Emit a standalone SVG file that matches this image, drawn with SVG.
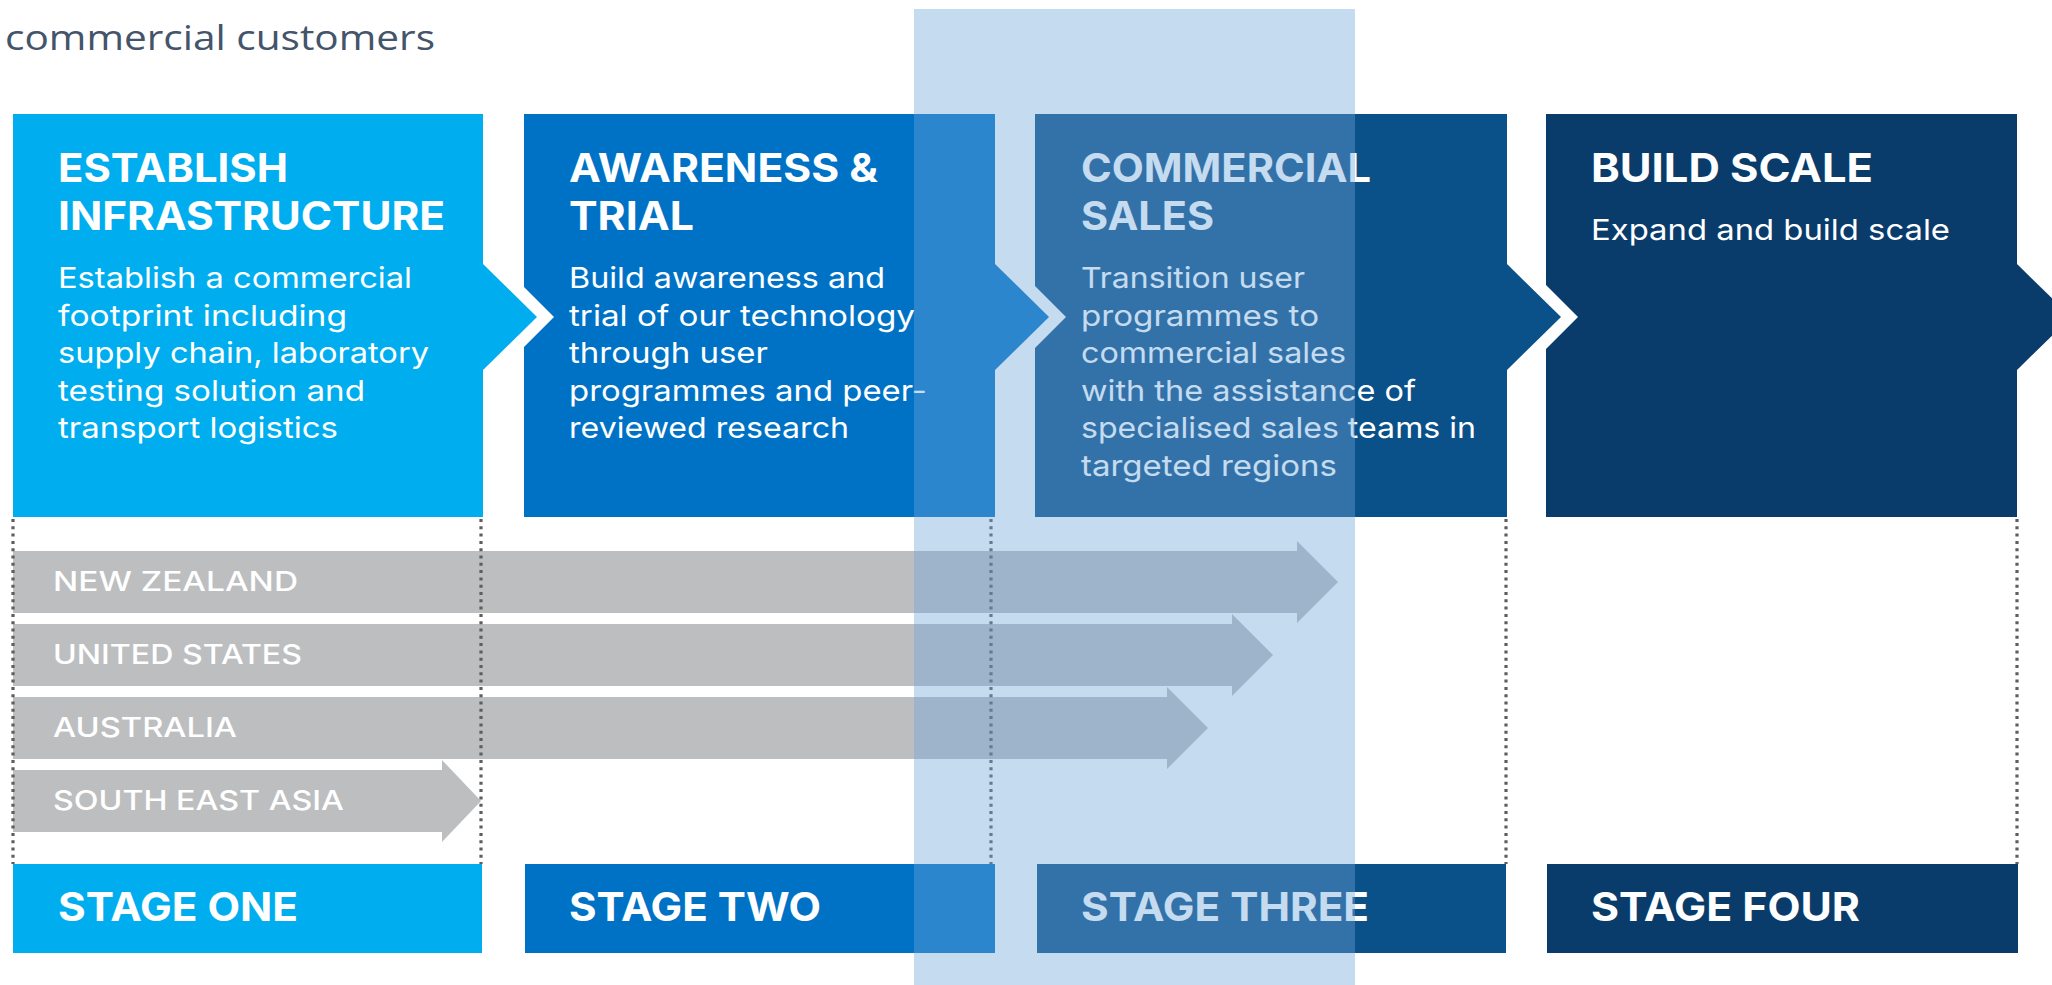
<svg xmlns="http://www.w3.org/2000/svg" width="2052" height="985" viewBox="0 0 2052 985">
<style>
.title{font-family:"Open Sans","Liberation Sans",sans-serif;font-size:34px;fill:#44546A}
.hd{font-family:Inter,"Liberation Sans",sans-serif;font-weight:700;font-size:40px;fill:#FFFFFF}
.bd{font-family:Inter,"Liberation Sans",sans-serif;font-weight:400;font-size:29px;fill:#FFFFFF}
.st{font-family:Inter,"Liberation Sans",sans-serif;font-weight:700;font-size:40px;fill:#FFFFFF}
.ct{font-family:Inter,"Liberation Sans",sans-serif;font-weight:500;font-size:27px;fill:#FFFFFF}
.c1{fill:#00AEEF}.c2{fill:#0072C6}.c3{fill:#0B5189}.c4{fill:#093C6B}
.gap{fill:#FFFFFF}
.bar{fill:#BCBEC0}
.dot{stroke:#5E5E5E;stroke-width:3.2;stroke-dasharray:3 4.3;fill:none}
</style>
<text class="title" x="5" y="50" textLength="430" lengthAdjust="spacingAndGlyphs">commercial customers</text>

<g id="stage4">
<rect class="c4" x="1546" y="114" width="471" height="403"/>
<polygon class="c4" points="2016,263 2071,317 2016,371"/>
<text class="hd" x="1591" y="182" textLength="282" lengthAdjust="spacingAndGlyphs">BUILD SCALE</text>
<text class="bd" x="1591" y="240" textLength="359" lengthAdjust="spacingAndGlyphs">Expand and build scale</text>
</g>
<g id="stage3">
<rect class="c3" x="1035" y="114" width="472" height="403"/>
<polygon class="gap" points="1524,263 1578,317 1524,371"/>
<polygon class="c3" points="1506,263 1561,317 1506,371"/>
<text class="hd" x="1081" y="182" textLength="290" lengthAdjust="spacingAndGlyphs">COMMERCIAL</text>
<text class="hd" x="1081" y="230" textLength="133" lengthAdjust="spacingAndGlyphs">SALES</text>
<text class="bd" x="1081" y="288" textLength="224" lengthAdjust="spacingAndGlyphs">Transition user</text>
<text class="bd" x="1081" y="326" textLength="238" lengthAdjust="spacingAndGlyphs">programmes to</text>
<text class="bd" x="1081" y="363" textLength="265" lengthAdjust="spacingAndGlyphs">commercial sales</text>
<text class="bd" x="1081" y="401" textLength="335" lengthAdjust="spacingAndGlyphs">with the assistance of</text>
<text class="bd" x="1081" y="438" textLength="395" lengthAdjust="spacingAndGlyphs">specialised sales teams in</text>
<text class="bd" x="1081" y="476" textLength="256" lengthAdjust="spacingAndGlyphs">targeted regions</text>
</g>
<g id="stage2">
<rect class="c2" x="524" y="114" width="471" height="403"/>
<polygon class="gap" points="1012,263 1066,317 1012,371"/>
<polygon class="c2" points="994,263 1049,317 994,371"/>
<text class="hd" x="569" y="182" textLength="309" lengthAdjust="spacingAndGlyphs">AWARENESS &amp;</text>
<text class="hd" x="569" y="230" textLength="125" lengthAdjust="spacingAndGlyphs">TRIAL</text>
<text class="bd" x="569" y="288" textLength="316" lengthAdjust="spacingAndGlyphs">Build awareness and</text>
<text class="bd" x="569" y="326" textLength="346" lengthAdjust="spacingAndGlyphs">trial of our technology</text>
<text class="bd" x="569" y="363" textLength="199" lengthAdjust="spacingAndGlyphs">through user</text>
<text class="bd" x="569" y="401" textLength="358" lengthAdjust="spacingAndGlyphs">programmes and peer-</text>
<text class="bd" x="569" y="438" textLength="280" lengthAdjust="spacingAndGlyphs">reviewed research</text>
</g>
<g id="stage1">
<rect class="c1" x="13" y="114" width="470" height="403"/>
<polygon class="gap" points="500,263 554,317 500,371"/>
<polygon class="c1" points="482,263 537,317 482,371"/>
<text class="hd" x="58" y="182" textLength="230" lengthAdjust="spacingAndGlyphs">ESTABLISH</text>
<text class="hd" x="58" y="230" textLength="387" lengthAdjust="spacingAndGlyphs">INFRASTRUCTURE</text>
<text class="bd" x="58" y="288" textLength="354" lengthAdjust="spacingAndGlyphs">Establish a commercial</text>
<text class="bd" x="58" y="326" textLength="289" lengthAdjust="spacingAndGlyphs">footprint including</text>
<text class="bd" x="58" y="363" textLength="371" lengthAdjust="spacingAndGlyphs">supply chain, laboratory</text>
<text class="bd" x="58" y="401" textLength="307" lengthAdjust="spacingAndGlyphs">testing solution and</text>
<text class="bd" x="58" y="438" textLength="280" lengthAdjust="spacingAndGlyphs">transport logistics</text>
</g>

<g id="connectors">
<g id="market-nz">
<polygon class="bar" points="13,551 1297,551 1297,541 1338,582 1297,623 1297,613 13,613"/>
<text class="ct" x="53" y="591" textLength="245" lengthAdjust="spacingAndGlyphs">NEW ZEALAND</text>
</g>
<g id="market-us">
<polygon class="bar" points="13,624 1232,624 1232,614 1273,655 1232,696 1232,686 13,686"/>
<text class="ct" x="53" y="664" textLength="249" lengthAdjust="spacingAndGlyphs">UNITED STATES</text>
</g>
<g id="market-au">
<polygon class="bar" points="13,697 1167,697 1167,687 1208,728 1167,769 1167,759 13,759"/>
<text class="ct" x="53" y="737" textLength="184" lengthAdjust="spacingAndGlyphs">AUSTRALIA</text>
</g>
<g id="market-sea">
<polygon class="bar" points="13,770 442,770 442,760 481,801 442,842 442,832 13,832"/>
<text class="ct" x="53" y="810" textLength="291" lengthAdjust="spacingAndGlyphs">SOUTH EAST ASIA</text>
</g>
<g id="guides">
<line class="dot" x1="13" y1="519" x2="13" y2="864"/>
<line class="dot" x1="481" y1="519" x2="481" y2="864"/>
<line class="dot" x1="991" y1="519" x2="991" y2="864"/>
<line class="dot" x1="1506" y1="519" x2="1506" y2="864"/>
<line class="dot" x1="2017" y1="519" x2="2017" y2="864"/>
</g>
</g>

<g id="label1"><rect class="c1" x="13" y="864" width="469" height="89"/><text class="st" x="58" y="921" textLength="240" lengthAdjust="spacingAndGlyphs">STAGE ONE</text></g>
<g id="label2"><rect class="c2" x="525" y="864" width="470" height="89"/><text class="st" x="569" y="921" textLength="252" lengthAdjust="spacingAndGlyphs">STAGE TWO</text></g>
<g id="label3"><rect class="c3" x="1037" y="864" width="469" height="89"/><text class="st" x="1081" y="921" textLength="288" lengthAdjust="spacingAndGlyphs">STAGE THREE</text></g>
<g id="label4"><rect class="c4" x="1547" y="864" width="471" height="89"/><text class="st" x="1591" y="921" textLength="269" lengthAdjust="spacingAndGlyphs">STAGE FOUR</text></g>

<rect id="highlight" x="914" y="9" width="441" height="976" fill="#6FA4DA" fill-opacity="0.4"/>
</svg>
